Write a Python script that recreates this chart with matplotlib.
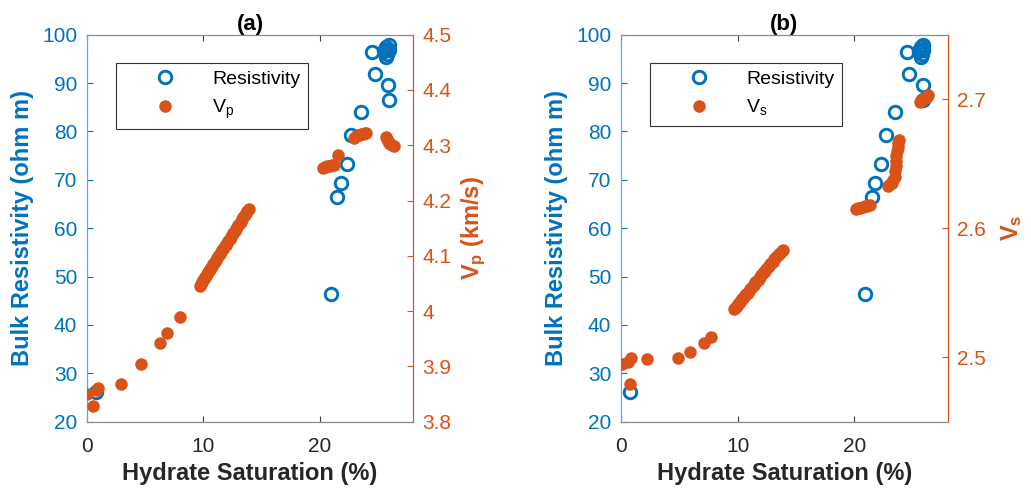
import matplotlib
matplotlib.use("Agg")
import matplotlib.pyplot as plt
from matplotlib.ticker import FixedLocator, FixedFormatter

plt.rcParams['font.family'] = ['Liberation Sans', 'DejaVu Sans']
plt.rcParams['mathtext.fontset'] = 'custom'
plt.rcParams['mathtext.rm'] = 'Liberation Sans'
plt.rcParams['mathtext.bf'] = 'Liberation Sans:bold'

BLUE = '#0072BD'
ORANGE = '#D95319'
DARK = '#262626'

# Bulk resistivity vs hydrate saturation (shared by both panels)
res_sat = [0.8, 20.95, 21.5, 21.8, 22.3, 22.7, 23.5, 24.7, 24.5,
           25.5, 25.7, 25.9, 25.8, 25.7, 25.9, 25.6, 25.85, 25.9]
res_val = [26.2, 46.5, 66.5, 69.4, 73.2, 79.3, 84.0, 91.8, 96.5,
           96.7, 97.4, 97.8, 96.0, 95.3, 96.8, 96.9, 89.7, 86.6]

# P-wave velocity (km/s)
vp_sat = [0.0, 0.54, 0.83, 0.97, 2.88, 4.66, 6.31, 6.91, 7.97,
          9.68, 9.78, 9.88, 9.97, 10.05, 10.14, 10.22, 10.31, 10.40, 10.49,
          10.58, 10.66, 10.75, 10.85, 10.95, 11.06, 11.18, 11.29, 11.40, 11.52,
          11.63, 11.72, 11.83, 11.93, 12.04, 12.14, 12.25, 12.35, 12.46, 12.56,
          12.67, 12.78, 12.88, 12.99, 13.10, 13.21, 13.32, 13.43, 13.54, 13.65,
          13.76, 13.88,
          20.25, 20.45, 20.65, 20.85, 21.05, 21.2, 21.55,
          22.97, 23.1, 23.25, 23.4, 23.55, 23.7, 23.85, 23.95,
          25.65, 25.75, 25.85, 25.95, 26.05, 26.2, 26.4]
vp_val = [3.850, 3.829, 3.857, 3.861, 3.869, 3.904, 3.943, 3.961, 3.989,
          4.046, 4.049, 4.053, 4.056, 4.058, 4.061, 4.064, 4.067, 4.070, 4.073,
          4.076, 4.078, 4.081, 4.085, 4.088, 4.092, 4.096, 4.099, 4.103, 4.107,
          4.110, 4.113, 4.117, 4.120, 4.124, 4.127, 4.131, 4.134, 4.138, 4.141,
          4.145, 4.148, 4.152, 4.155, 4.159, 4.162, 4.166, 4.170, 4.173, 4.177,
          4.181, 4.185,
          4.259, 4.261, 4.262, 4.263, 4.264, 4.265, 4.282,
          4.314, 4.316, 4.318, 4.319, 4.320, 4.321, 4.322, 4.323,
          4.315, 4.312, 4.308, 4.305, 4.302, 4.300, 4.299]

# S-wave velocity (km/s)
vs_sat = [0.05, 0.63, 0.86, 0.77, 2.2, 4.91, 5.91, 7.11, 7.71,
          9.68, 9.78, 9.88, 9.97, 10.05, 10.14, 10.22, 10.31, 10.40, 10.49,
          10.58, 10.66, 10.75, 10.85, 10.95, 11.06, 11.18, 11.29, 11.40, 11.52,
          11.63, 11.72, 11.83, 11.93, 12.04, 12.14, 12.25, 12.35, 12.46, 12.56,
          12.67, 12.78, 12.88, 12.99, 13.10, 13.21, 13.32, 13.43, 13.54, 13.65,
          13.76, 13.86,
          20.1, 20.3, 20.5, 20.7, 20.9, 21.1, 21.3,
          22.9, 23.05, 23.2, 23.35, 23.45, 23.5, 23.55, 23.55, 23.6, 23.65,
          23.7, 23.75, 23.8,
          25.6, 25.75, 25.9, 26.05, 26.2, 26.35]
vs_val = [2.4945, 2.4965, 2.4996, 2.479, 2.4986, 2.4996, 2.5038, 2.5108, 2.5159,
          2.537, 2.538, 2.539, 2.540, 2.541, 2.542, 2.543, 2.544, 2.545, 2.546,
          2.547, 2.548, 2.549, 2.550, 2.551, 2.553, 2.554, 2.555, 2.556, 2.558,
          2.559, 2.560, 2.561, 2.562, 2.564, 2.565, 2.566, 2.567, 2.568, 2.570,
          2.571, 2.572, 2.573, 2.574, 2.576, 2.577, 2.578, 2.579, 2.580, 2.581,
          2.582, 2.583,
          2.615, 2.6155, 2.616, 2.6165, 2.617, 2.6175, 2.618,
          2.633, 2.634, 2.635, 2.637, 2.640, 2.644, 2.648, 2.652, 2.656, 2.660,
          2.663, 2.666, 2.668,
          2.698, 2.699, 2.700, 2.701, 2.702, 2.703]

x_ticks = [0, 10, 20]
res_ticks = [20, 30, 40, 50, 60, 70, 80, 90, 100]
vp_ticks = [3.8, 3.9, 4.0, 4.1, 4.2, 4.3, 4.4, 4.5]
vp_tick_labels = ['3.8', '3.9', '4', '4.1', '4.2', '4.3', '4.4', '4.5']
vs_ticks = [2.5, 2.6, 2.7]
vs_tick_labels = ['2.5', '2.6', '2.7']

fig = plt.figure(figsize=(10.31, 4.93), dpi=100)

panels = [
    dict(rect=[0.0844, 0.1446, 0.3162, 0.785], title='(a)',
         sat=vp_sat, vel=vp_val, ylim=(3.8, 4.5), ticks=vp_ticks,
         labels=vp_tick_labels, ylabel=r'$\mathbf{V_p}$ (km/s)',
         legend=r'V$_\mathregular{p}$', ylpad=6),
    dict(rect=[0.6023, 0.1446, 0.3169, 0.785], title='(b)',
         sat=vs_sat, vel=vs_val, ylim=(2.45, 2.75), ticks=vs_ticks,
         labels=vs_tick_labels, ylabel=r'$\mathbf{V_s}$',
         legend=r'V$_\mathregular{s}$', ylpad=9),
]

for p in panels:
    ax = fig.add_axes(p['rect'])
    ax2 = ax.twinx()

    h1, = ax.plot(res_sat, res_val, 'o', ls='none', mfc='none', mec=BLUE,
                  ms=9, mew=2.1, label='Resistivity', zorder=3)
    h2, = ax2.plot(p['sat'], p['vel'], 'o', ls='none', mfc=ORANGE, mec=ORANGE,
                   ms=9, mew=0, label=p['legend'], zorder=3)

    ax.set_xlim(0, 28)
    ax.set_ylim(20, 100)
    ax2.set_ylim(*p['ylim'])
    ax.xaxis.set_major_locator(FixedLocator(x_ticks))
    ax.yaxis.set_major_locator(FixedLocator(res_ticks))
    ax2.yaxis.set_major_locator(FixedLocator(p['ticks']))
    ax2.yaxis.set_major_formatter(FixedFormatter(p['labels']))

    for a in (ax, ax2):
        a.tick_params(direction='in', length=4, width=0.8, labelsize=15)
        for s in a.spines.values():
            s.set_linewidth(0.8)
            s.set_color('#8a8a8a')
    ax.tick_params(axis='x', colors=DARK, top=True, pad=11)
    ax.tick_params(axis='x', color='#404040')
    ax.tick_params(axis='y', colors=BLUE, left=True, right=False, pad=7)
    ax.spines['left'].set_color('#5aa9e0')
    ax2.spines['left'].set_color('#5aa9e0')
    ax2.spines['right'].set_color(ORANGE)
    ax2.tick_params(axis='y', colors=ORANGE, pad=7)

    ax.set_xlabel('Hydrate Saturation (%)', fontsize=17, fontweight='bold',
                  color=DARK, labelpad=4)
    ax.set_ylabel('Bulk Resistivity (ohm m)', fontsize=17, fontweight='bold',
                  color=BLUE, labelpad=6)
    ax2.set_ylabel(p['ylabel'], fontsize=17, fontweight='bold',
                   color=ORANGE, rotation=90, labelpad=p['ylpad'])
    ax.set_title(p['title'], fontsize=16, fontweight='bold', color='black',
                 pad=2)

    leg = ax2.legend([h1, h2], ['Resistivity', p['legend']], loc='upper left',
                     bbox_to_anchor=(0.088, 0.928), borderaxespad=0,
                     fontsize=14, frameon=True, fancybox=False,
                     edgecolor='#333333', framealpha=1, handlelength=4.25,
                     handletextpad=0.3, borderpad=0.4, labelspacing=0.5,
                     numpoints=1)
    leg.get_frame().set_linewidth(0.8)

fig.savefig('out.png', dpi=100)
